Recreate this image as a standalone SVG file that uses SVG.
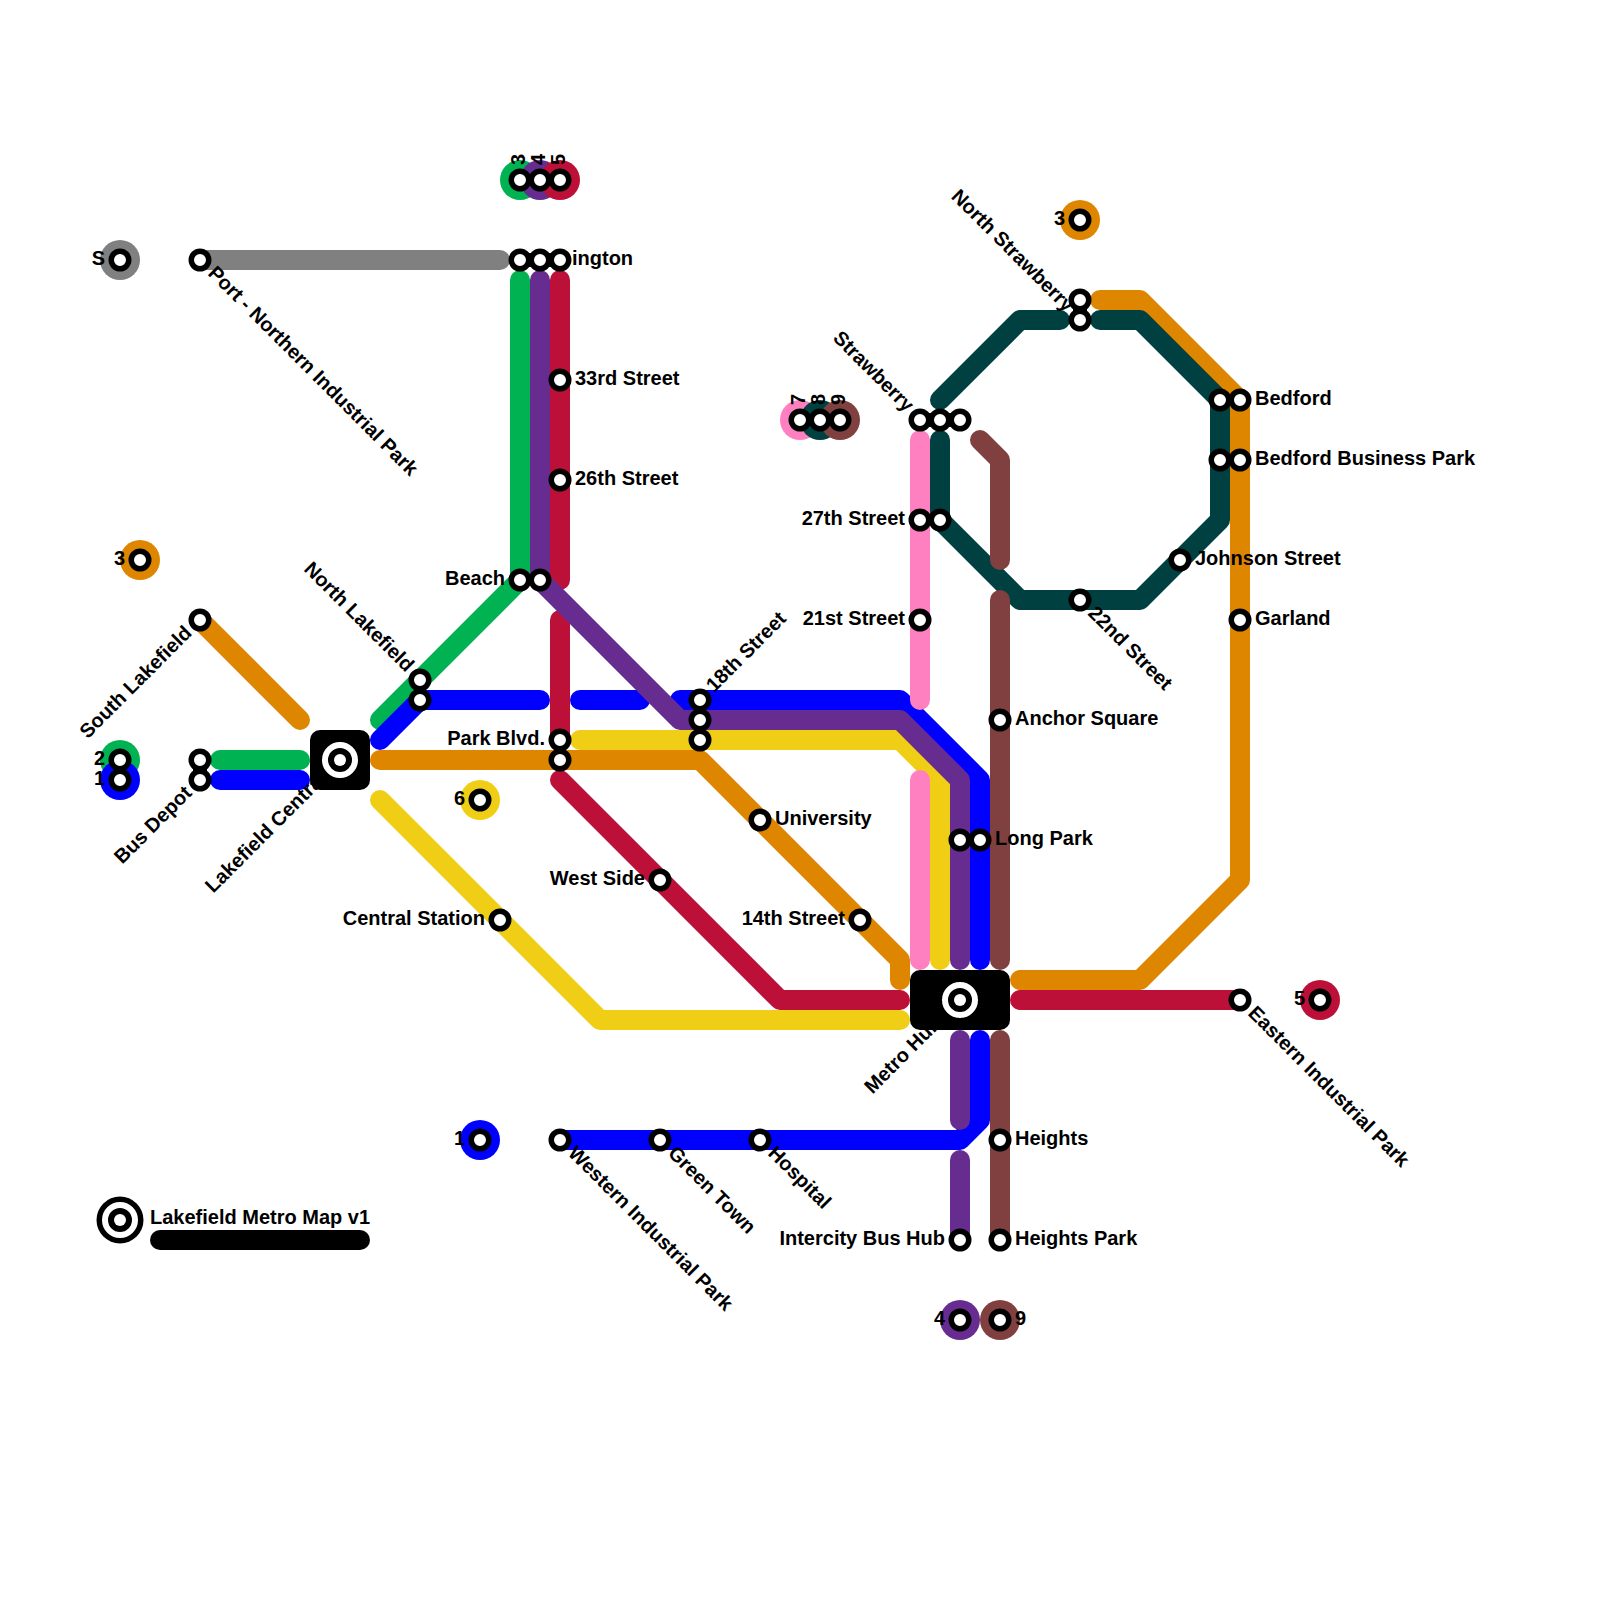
<svg xmlns="http://www.w3.org/2000/svg" width="1600" height="1600" viewBox="0 0 1600 1600">
<style>
.l{fill:none;stroke-width:20;stroke-linecap:round;stroke-linejoin:round}
.t{font-family:"Liberation Sans",Arial,sans-serif;font-weight:bold;font-size:20px;fill:#000}
.e{text-anchor:end}
.s{fill:#fff;stroke:#000;stroke-width:5.5}
.b{stroke:#000;stroke-width:14;fill:none}
</style>
<defs>
<circle id="st" r="8.75" class="s"/>
<g id="hub"><circle r="15" fill="#000" stroke="#fff" stroke-width="6"/><circle r="6" fill="#fff"/></g>
</defs>
<rect width="1600" height="1600" fill="#fff"/>
<g id="connectors">
<path class="l" stroke="#808080" d="M200 260H500"/>
<path class="l" stroke="#00b251" d="M220 760H300M520 280V580L380 720"/>
<path class="l" stroke="#0000ff" d="M220 780H300M380 740L420 700H540M580 700H640M680 700H900L980 780V960M980 1040V1120L960 1140H560"/>
<path class="l" stroke="#de8600" d="M200 620L300 720M380 760H700L900 960V980M1020 980H1140L1240 880V400L1140 300H1100"/>
<path class="l" stroke="#f0ce15" d="M380 800L600 1020H900M580 740H900L940 780V960"/>
<path class="l" stroke="#ff80c0" d="M920 440V700M920 780V960"/>
<path class="l" stroke="#bd1038" d="M560 280V580M560 620V740M560 780L780 1000H900M1020 1000H1240"/>
<path class="l" stroke="#662c90" d="M540 280V580L680 720H900L960 780V960M960 1040V1120M960 1160V1240"/>
<path class="l" stroke="#004040" d="M940 400L1020 320H1060M1100 320H1140L1220 400V520L1140 600H1020L940 520V440"/>
<path class="l" stroke="#804040" d="M980 440L1000 460V560M1000 600V960M1000 1040V1240"/>
<path class="b" d="M520 260H560M920 420H960M1080 300V320M200 760V780"/>
</g>
<g id="terminal-discs">
<circle cx="120" cy="260" r="20" fill="#808080"/>
<circle cx="520" cy="180" r="20" fill="#00b251"/><circle cx="540" cy="180" r="20" fill="#662c90"/><circle cx="560" cy="180" r="20" fill="#bd1038"/>
<circle cx="140" cy="560" r="20" fill="#de8600"/>
<circle cx="120" cy="760" r="20" fill="#00b251"/><circle cx="120" cy="780" r="20" fill="#0000ff"/>
<circle cx="480" cy="800" r="20" fill="#f0ce15"/>
<circle cx="800" cy="420" r="20" fill="#ff80c0"/><circle cx="820" cy="420" r="20" fill="#004040"/><circle cx="840" cy="420" r="20" fill="#804040"/>
<circle cx="1080" cy="220" r="20" fill="#de8600"/>
<circle cx="1320" cy="1000" r="20" fill="#bd1038"/>
<circle cx="480" cy="1140" r="20" fill="#0000ff"/>
<circle cx="960" cy="1320" r="20" fill="#662c90"/><circle cx="1000" cy="1320" r="20" fill="#804040"/>
</g>
<g id="n-s"><text class="t e" x="105" y="265">S</text><use href="#st" x="120" y="260"/></g>
<g id="n-port"><text class="t" x="215" y="265" transform="rotate(45 200 260)">Port - Northern Industrial Park</text><use href="#st" x="200" y="260"/></g>
<g id="n-t3g"><text class="t" x="535" y="185" transform="rotate(-90 520 180)">3</text><use href="#st" x="520" y="180"/></g>
<g id="n-t4p"><text class="t" x="555" y="185" transform="rotate(-90 540 180)">4</text><use href="#st" x="540" y="180"/></g>
<g id="n-t5r"><text class="t" x="575" y="185" transform="rotate(-90 560 180)">5</text><use href="#st" x="560" y="180"/></g>
<g id="n-ington"><text class="t" x="572" y="265">ington</text><use href="#st" x="520" y="260"/><use href="#st" x="540" y="260"/><use href="#st" x="560" y="260"/></g>
<g id="n-33"><text class="t" x="575" y="385">33rd Street</text><use href="#st" x="560" y="380"/></g>
<g id="n-26"><text class="t" x="575" y="485">26th Street</text><use href="#st" x="560" y="480"/></g>
<g id="n-beach"><text class="t e" x="505" y="585">Beach</text><use href="#st" x="520" y="580"/><use href="#st" x="540" y="580"/></g>
<g id="n-t3o"><text class="t e" x="125" y="565">3</text><use href="#st" x="140" y="560"/></g>
<g id="n-south"><text class="t e" x="185" y="625" transform="rotate(-45 200 620)">South Lakefield</text><use href="#st" x="200" y="620"/></g>
<g id="n-north"><text class="t e" x="405" y="685" transform="rotate(45 420 680)">North Lakefield</text><use href="#st" x="420" y="680"/><use href="#st" x="420" y="700"/></g>
<g id="n-t2"><text class="t e" x="105" y="765">2</text><use href="#st" x="120" y="760"/></g>
<g id="n-t1"><text class="t e" x="105" y="785">1</text><use href="#st" x="120" y="780"/></g>
<g id="n-bus"><text class="t e" x="185" y="785" transform="rotate(-45 200 780)">Bus Depot</text><use href="#st" x="200" y="760"/><use href="#st" x="200" y="780"/></g>
<g id="n-central-hub"><text class="t e" x="317" y="765" transform="rotate(-45 340 760)">Lakefield Central</text><rect x="310" y="730" width="60" height="60" rx="10"/><use href="#hub" x="340" y="760"/></g>
<g id="n-park"><text class="t e" x="545" y="745">Park Blvd.</text><use href="#st" x="560" y="740"/><use href="#st" x="560" y="760"/></g>
<g id="n-t6"><text class="t e" x="465" y="805">6</text><use href="#st" x="480" y="800"/></g>
<g id="n-cs"><text class="t e" x="485" y="925">Central Station</text><use href="#st" x="500" y="920"/></g>
<g id="n-west"><text class="t e" x="645" y="885">West Side</text><use href="#st" x="660" y="880"/></g>
<g id="n-18"><text class="t" x="715" y="705" transform="rotate(-45 700 700)">18th Street</text><use href="#st" x="700" y="700"/><use href="#st" x="700" y="720"/><use href="#st" x="700" y="740"/></g>
<g id="n-univ"><text class="t" x="775" y="825">University</text><use href="#st" x="760" y="820"/></g>
<g id="n-14"><text class="t e" x="845" y="925">14th Street</text><use href="#st" x="860" y="920"/></g>
<g id="n-t7"><text class="t" x="815" y="425" transform="rotate(-90 800 420)">7</text><use href="#st" x="800" y="420"/></g>
<g id="n-t8"><text class="t" x="835" y="425" transform="rotate(-90 820 420)">8</text><use href="#st" x="820" y="420"/></g>
<g id="n-t9"><text class="t" x="855" y="425" transform="rotate(-90 840 420)">9</text><use href="#st" x="840" y="420"/></g>
<g id="n-straw"><text class="t e" x="905" y="425" transform="rotate(45 920 420)">Strawberry</text><use href="#st" x="920" y="420"/><use href="#st" x="940" y="420"/><use href="#st" x="960" y="420"/></g>
<g id="n-27"><text class="t e" x="905" y="525">27th Street</text><use href="#st" x="920" y="520"/><use href="#st" x="940" y="520"/></g>
<g id="n-21"><text class="t e" x="905" y="625">21st Street</text><use href="#st" x="920" y="620"/></g>
<g id="n-t3o2"><text class="t e" x="1065" y="225">3</text><use href="#st" x="1080" y="220"/></g>
<g id="n-nstraw"><text class="t e" x="1065" y="325" transform="rotate(45 1080 320)">North Strawberry</text><use href="#st" x="1080" y="300"/><use href="#st" x="1080" y="320"/></g>
<g id="n-bedford"><text class="t" x="1255" y="405">Bedford</text><use href="#st" x="1220" y="400"/><use href="#st" x="1240" y="400"/></g>
<g id="n-bbp"><text class="t" x="1255" y="465">Bedford Business Park</text><use href="#st" x="1220" y="460"/><use href="#st" x="1240" y="460"/></g>
<g id="n-johnson"><text class="t" x="1195" y="565">Johnson Street</text><use href="#st" x="1180" y="560"/></g>
<g id="n-garland"><text class="t" x="1255" y="625">Garland</text><use href="#st" x="1240" y="620"/></g>
<g id="n-22"><text class="t" x="1095" y="605" transform="rotate(45 1080 600)">22nd Street</text><use href="#st" x="1080" y="600"/></g>
<g id="n-anchor"><text class="t" x="1015" y="725">Anchor Square</text><use href="#st" x="1000" y="720"/></g>
<g id="n-long"><text class="t" x="995" y="845">Long Park</text><use href="#st" x="960" y="840"/><use href="#st" x="980" y="840"/></g>
<g id="n-metro"><text class="t e" x="930" y="1005" transform="rotate(-45 960 1000)">Metro Hub</text><rect x="910" y="970" width="100" height="60" rx="10"/><use href="#hub" x="960" y="1000"/></g>
<g id="n-east"><text class="t" x="1255" y="1005" transform="rotate(45 1240 1000)">Eastern Industrial Park</text><use href="#st" x="1240" y="1000"/></g>
<g id="n-t5r2"><text class="t e" x="1305" y="1005">5</text><use href="#st" x="1320" y="1000"/></g>
<g id="n-t1b"><text class="t e" x="465" y="1145">1</text><use href="#st" x="480" y="1140"/></g>
<g id="n-western"><text class="t" x="575" y="1145" transform="rotate(45 560 1140)">Western Industrial Park</text><use href="#st" x="560" y="1140"/></g>
<g id="n-green"><text class="t" x="675" y="1145" transform="rotate(45 660 1140)">Green Town</text><use href="#st" x="660" y="1140"/></g>
<g id="n-hosp"><text class="t" x="775" y="1145" transform="rotate(45 760 1140)">Hospital</text><use href="#st" x="760" y="1140"/></g>
<g id="n-heights"><text class="t" x="1015" y="1145">Heights</text><use href="#st" x="1000" y="1140"/></g>
<g id="n-ibh"><text class="t e" x="945" y="1245">Intercity Bus Hub</text><use href="#st" x="960" y="1240"/></g>
<g id="n-hp"><text class="t" x="1015" y="1245">Heights Park</text><use href="#st" x="1000" y="1240"/></g>
<g id="n-t4b"><text class="t e" x="945" y="1325">4</text><use href="#st" x="960" y="1320"/></g>
<g id="n-t9b"><text class="t" x="1015" y="1325">9</text><use href="#st" x="1000" y="1320"/></g>
<g id="legend"><circle cx="120" cy="1220" r="23.5"/><use href="#hub" x="120" y="1220"/><text class="t" x="150" y="1224">Lakefield Metro Map v1</text><path class="l" stroke="#000" d="M160 1240H360"/></g>
</svg>
